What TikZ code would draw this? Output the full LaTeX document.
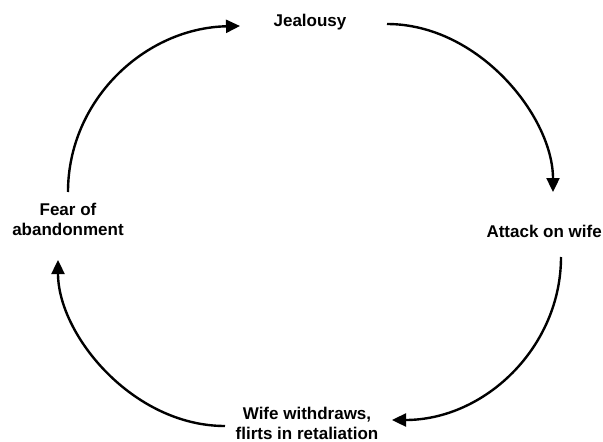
\documentclass[tikz,border=0pt]{standalone}
\usepackage{fontspec}
\setmainfont{Liberation Sans}
\usetikzlibrary{arrows.meta}
\begin{document}
\begin{tikzpicture}[x=1pt,y=1pt,
  lbl/.style={font=\fontsize{17}{19.5}\selectfont\bfseries, inner sep=0pt, align=center},
  cyc/.style={line width=2.4pt, -{Triangle[length=14pt,width=13pt]}}]
\useasboundingbox (0,0) rectangle (603,-442);
\node[lbl, anchor=base] (jeal) at (310,-26) {Jealousy};
\node[lbl, anchor=base east] (attack) at (602,-237) {Attack on wife};
\node[lbl, anchor=base] (fear) at (68,-235) {Fear of\\abandonment};
\node[lbl, anchor=base] (wife) at (307,-439) {Wife withdraws,\\flirts in retaliation};
\coordinate (a1s) at (68,-192);
\coordinate (a1e) at (240,-26);
\coordinate (a2s) at (387,-24);
\coordinate (a2e) at (553,-192);
\coordinate (a3s) at (561,-257);
\coordinate (a3e) at (392,-420);
\coordinate (a4s) at (225,-426);
\coordinate (a4e) at (58,-260);
\draw[cyc] (a1s) .. controls (68,-100) and (145,-28) .. (a1e);
\draw[cyc] (a2s) .. controls (479,-24) and (553,-117) .. (a2e);
\draw[cyc] (a3s) .. controls (561,-347) and (485,-420) .. (a3e);
\draw[cyc] (a4s) .. controls (133,-426) and (58,-335) .. (a4e);
\end{tikzpicture}
\end{document}
